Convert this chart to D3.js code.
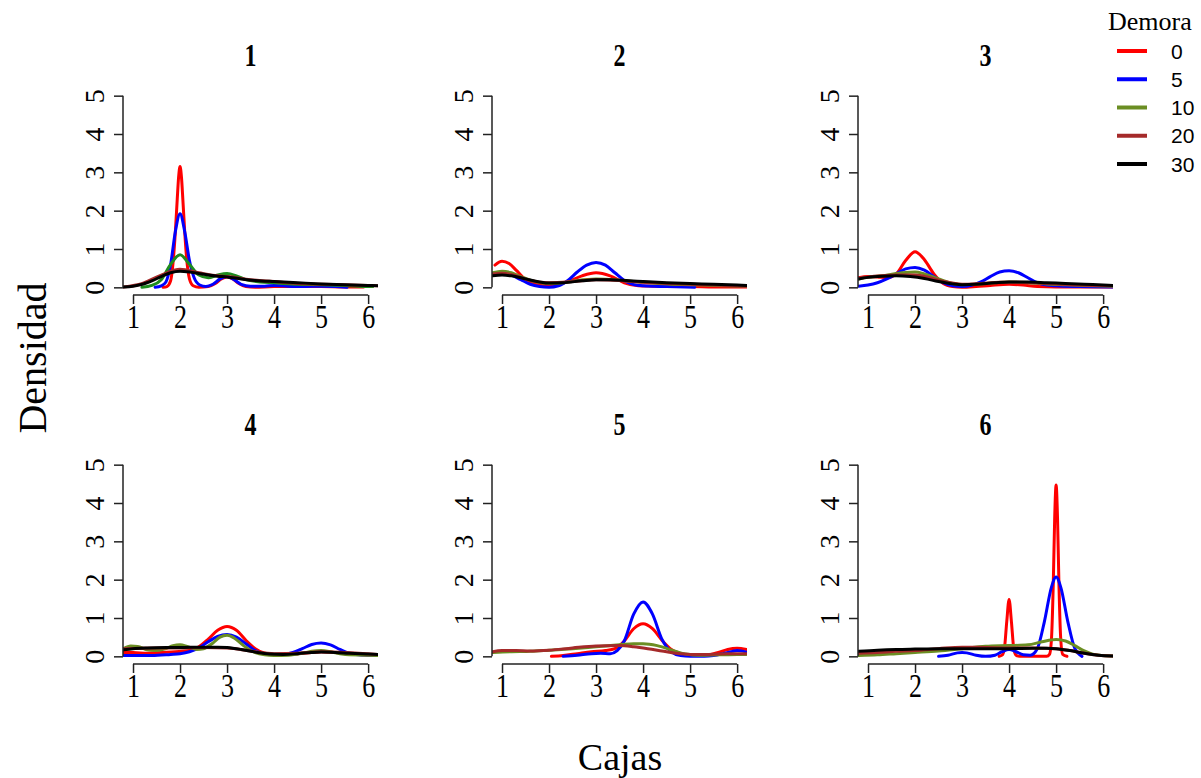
<!DOCTYPE html>
<html>
<head>
<meta charset="utf-8">
<script src="https://cdn.jsdelivr.net/npm/d3@7"></script>
<style>
  html, body { margin: 0; padding: 0; background: #fff; }
  svg { display: block; }
</style>
</head>
<body>
<svg id="chart" width="1201" height="778"></svg>
<script>
// Panel titles (number of boxes) and the delay groups
const panels = ["1", "2", "3", "4", "5", "6"];
const delays = ["0", "5", "10", "20", "30"];
const delayColors = ["#FF0000", "#0000FF", "#6B8E23", "#A52A2A", "#000000"];
const xTicks = [1, 2, 3, 4, 5, 6];
const yTicks = [0, 1, 2, 3, 4, 5];

// Density estimates, one list of [cajas, densidad] points per delay (0, 5, 10, 20, 30)
const caja1 = [
  [[1.64,0],[1.72,0.02],[1.8,0.17],[1.86,0.76],[1.9,1.44],[1.94,2.29],[1.97,2.88],[2.0,3.15],[2.03,2.88],[2.06,2.29],[2.1,1.44],[2.14,0.76],[2.2,0.22],[2.28,0.04],[2.4,0],[2.6,0.02],[2.75,0.1],[2.88,0.22],[3.0,0.27],[3.12,0.22],[3.25,0.1],[3.4,0.02],[3.6,0],[4.0,0.02],[4.5,0.02],[5.0,0.02],[5.5,0.01],[5.9,0.01]],
  [[1.47,0],[1.6,0.04],[1.7,0.14],[1.8,0.6],[1.9,1.45],[2.0,1.92],[2.1,1.45],[2.2,0.7],[2.3,0.25],[2.42,0.06],[2.55,0.02],[2.7,0.08],[2.85,0.22],[3.0,0.28],[3.15,0.2],[3.3,0.08],[3.5,0.03],[3.8,0.03],[4.0,0.05],[4.3,0.03],[4.6,0.02],[5.0,0.03],[5.3,0.02],[5.55,0]],
  [[1.19,0],[1.4,0.05],[1.6,0.2],[1.8,0.6],[2.0,0.85],[2.2,0.6],[2.4,0.32],[2.6,0.25],[2.8,0.32],[3.0,0.36],[3.2,0.3],[3.4,0.2],[3.7,0.14],[4.0,0.12],[4.5,0.08],[5.0,0.07],[5.5,0.05],[6.0,0.02],[6.1,0.02]],
  [[0.8,0.01],[1.2,0.1],[1.6,0.32],[2.0,0.47],[2.4,0.38],[2.8,0.3],[3.0,0.28],[3.5,0.2],[4.0,0.15],[4.5,0.1],[5.0,0.08],[5.5,0.07],[6.21,0.04]],
  [[0.79,0.01],[1.0,0.03],[1.2,0.08],[1.4,0.17],[1.6,0.28],[1.8,0.38],[2.0,0.42],[2.2,0.4],[2.4,0.36],[2.6,0.32],[2.8,0.29],[3.0,0.27],[3.3,0.22],[3.6,0.18],[4.0,0.15],[4.5,0.12],[5.0,0.09],[5.5,0.07],[6.0,0.05],[6.21,0.04]]
];
const caja2 = [
  [[0.85,0.58],[1.0,0.68],[1.15,0.62],[1.3,0.45],[1.5,0.2],[1.7,0.08],[1.9,0.05],[2.1,0.06],[2.4,0.15],[2.7,0.3],[3.0,0.38],[3.3,0.3],[3.6,0.12],[3.9,0.04],[4.2,0.03],[4.6,0.02],[5.0,0.02],[5.5,0.01],[6.2,0.01]],
  [[0.85,0.35],[1.0,0.38],[1.2,0.32],[1.4,0.2],[1.6,0.08],[1.8,0.02],[2.0,0],[2.2,0.04],[2.4,0.18],[2.6,0.4],[2.8,0.58],[3.0,0.65],[3.2,0.58],[3.4,0.38],[3.6,0.18],[3.8,0.07],[4.0,0.04],[4.5,0.02],[5.1,0]],
  [[0.8,0.38],[1.0,0.42],[1.2,0.38],[1.4,0.28],[1.7,0.15],[2.0,0.1],[2.3,0.12],[2.6,0.18],[3.0,0.22],[3.4,0.2],[3.8,0.15],[4.2,0.11],[4.6,0.08],[5.0,0.07],[5.5,0.05],[6.2,0.03]],
  [[0.8,0.35],[1.0,0.37],[1.3,0.3],[1.6,0.18],[2.0,0.12],[2.5,0.15],[3.0,0.2],[3.5,0.18],[4.0,0.13],[4.5,0.1],[5.0,0.08],[5.5,0.06],[6.2,0.03]],
  [[0.8,0.3],[1.0,0.32],[1.2,0.3],[1.5,0.22],[1.8,0.14],[2.0,0.11],[2.3,0.12],[2.7,0.17],[3.0,0.2],[3.3,0.2],[3.7,0.17],[4.0,0.15],[4.5,0.12],[5.0,0.1],[5.5,0.08],[6.0,0.06],[6.2,0.05]]
];
const caja3 = [
  [[0.8,0.25],[1.0,0.28],[1.2,0.27],[1.4,0.25],[1.6,0.35],[1.8,0.7],[2.0,0.93],[2.2,0.72],[2.4,0.35],[2.6,0.1],[2.8,0.02],[3.0,0],[3.3,0.02],[3.6,0.05],[4.0,0.08],[4.3,0.06],[4.6,0.02],[5.0,0.01],[5.5,0.01],[6.2,0.01]],
  [[0.8,0.03],[1.0,0.06],[1.2,0.12],[1.4,0.22],[1.6,0.35],[1.8,0.48],[2.0,0.52],[2.2,0.45],[2.4,0.28],[2.6,0.12],[2.8,0.04],[3.0,0.02],[3.2,0.05],[3.4,0.14],[3.6,0.28],[3.8,0.4],[4.0,0.43],[4.2,0.38],[4.4,0.25],[4.6,0.12],[4.8,0.06],[5.0,0.04],[5.5,0.02],[6.2,0.01]],
  [[0.8,0.22],[1.0,0.26],[1.3,0.3],[1.6,0.36],[1.8,0.39],[2.0,0.4],[2.2,0.35],[2.5,0.22],[2.8,0.1],[3.0,0.07],[3.3,0.08],[3.7,0.12],[4.0,0.14],[4.4,0.12],[4.8,0.09],[5.2,0.07],[5.6,0.05],[6.2,0.03]],
  [[0.8,0.24],[1.0,0.27],[1.3,0.3],[1.6,0.32],[2.0,0.32],[2.3,0.26],[2.6,0.16],[3.0,0.08],[3.4,0.1],[3.8,0.13],[4.2,0.13],[4.6,0.11],[5.0,0.09],[5.5,0.06],[6.2,0.04]],
  [[0.8,0.22],[1.0,0.26],[1.3,0.29],[1.6,0.3],[1.9,0.28],[2.2,0.23],[2.5,0.15],[2.8,0.09],[3.0,0.07],[3.3,0.08],[3.7,0.12],[4.0,0.14],[4.4,0.14],[4.8,0.12],[5.2,0.1],[5.6,0.08],[6.0,0.06],[6.21,0.05]]
];
const caja4 = [
  [[0.8,0.1],[1.0,0.1],[1.3,0.08],[1.6,0.1],[1.9,0.12],[2.2,0.15],[2.4,0.25],[2.6,0.45],[2.8,0.68],[3.0,0.78],[3.2,0.68],[3.4,0.42],[3.6,0.2],[3.8,0.08],[4.0,0.05],[4.4,0.06],[4.8,0.1],[5.0,0.12],[5.3,0.1],[5.6,0.07],[6.0,0.03],[6.1,0.02]],
  [[0.8,0.02],[1.0,0.02],[1.4,0.02],[1.8,0.05],[2.0,0.07],[2.2,0.12],[2.4,0.22],[2.6,0.38],[2.8,0.52],[3.0,0.57],[3.2,0.5],[3.4,0.33],[3.6,0.15],[3.8,0.06],[4.0,0.04],[4.2,0.05],[4.4,0.1],[4.6,0.2],[4.8,0.31],[5.0,0.35],[5.2,0.3],[5.4,0.18],[5.6,0.08],[5.8,0.04],[6.0,0.03],[6.2,0.02]],
  [[0.8,0.2],[0.95,0.27],[1.1,0.26],[1.3,0.17],[1.5,0.15],[1.7,0.2],[1.85,0.28],[2.0,0.3],[2.15,0.26],[2.35,0.18],[2.5,0.2],[2.7,0.35],[2.85,0.5],[3.0,0.55],[3.15,0.48],[3.35,0.28],[3.6,0.1],[3.8,0.04],[4.0,0.02],[4.3,0.03],[4.6,0.08],[4.8,0.13],[5.0,0.15],[5.2,0.12],[5.4,0.07],[5.6,0.04],[6.0,0.03],[6.2,0.02]],
  [[0.8,0.2],[1.5,0.22],[2.0,0.22],[2.5,0.23],[3.0,0.22],[3.5,0.14],[4.0,0.07],[4.5,0.08],[5.0,0.12],[5.5,0.1],[6.2,0.05]],
  [[0.8,0.17],[1.0,0.2],[1.3,0.22],[1.7,0.23],[2.0,0.23],[2.4,0.24],[2.8,0.24],[3.0,0.23],[3.3,0.18],[3.6,0.11],[3.9,0.06],[4.2,0.05],[4.5,0.07],[4.8,0.1],[5.0,0.11],[5.3,0.1],[5.6,0.08],[6.0,0.06],[6.21,0.05]]
];
const caja5 = [
  [[2.05,0],[2.3,0.02],[2.6,0.07],[2.9,0.12],[3.2,0.15],[3.4,0.2],[3.6,0.4],[3.8,0.72],[4.0,0.85],[4.2,0.72],[4.4,0.42],[4.6,0.18],[4.8,0.07],[5.0,0.03],[5.2,0.02],[5.4,0.04],[5.6,0.1],[5.8,0.18],[6.0,0.21],[6.2,0.18]],
  [[2.3,0],[2.6,0.03],[2.9,0.07],[3.1,0.08],[3.3,0.07],[3.45,0.15],[3.6,0.4],[3.8,1.1],[4.0,1.42],[4.2,1.1],[4.4,0.45],[4.6,0.12],[4.8,0.02],[5.0,0],[5.3,0],[5.5,0.02],[5.7,0.07],[5.9,0.13],[6.0,0.15],[6.2,0.11]],
  [[0.8,0.1],[1.2,0.12],[1.6,0.13],[2.0,0.16],[2.5,0.2],[3.0,0.25],[3.5,0.3],[3.8,0.33],[4.0,0.33],[4.3,0.28],[4.6,0.17],[4.9,0.06],[5.2,0.03],[5.6,0.04],[6.0,0.05],[6.2,0.05]],
  [[0.8,0.12],[1.0,0.15],[1.3,0.15],[1.6,0.14],[2.0,0.16],[2.5,0.22],[3.0,0.27],[3.5,0.28],[3.8,0.25],[4.1,0.2],[4.4,0.14],[4.7,0.08],[5.0,0.05],[5.4,0.05],[5.8,0.07],[6.2,0.07]],
  null
];
const caja6 = [
  [[3.79,0],[3.85,0.03],[3.9,0.2],[3.95,0.9],[4.0,1.48],[4.05,0.9],[4.1,0.2],[4.15,0.03],[4.22,0],[4.8,0],[4.86,0.05],[4.9,0.42],[4.94,1.9],[4.97,3.62],[5.0,4.47],[5.03,3.62],[5.06,1.9],[5.1,0.42],[5.14,0.05],[5.23,0]],
  [[2.5,0],[2.7,0.03],[2.9,0.09],[3.0,0.1],[3.1,0.09],[3.3,0.03],[3.5,0],[3.7,0.03],[3.85,0.12],[4.0,0.18],[4.15,0.12],[4.3,0.04],[4.45,0.03],[4.6,0.2],[4.75,0.9],[4.9,1.8],[5.0,2.07],[5.1,1.8],[5.25,0.9],[5.4,0.2],[5.55,0]],
  [[0.8,0.02],[1.2,0.04],[1.6,0.07],[2.0,0.1],[2.5,0.14],[3.0,0.2],[3.5,0.26],[4.0,0.28],[4.4,0.3],[4.7,0.38],[5.0,0.44],[5.2,0.4],[5.4,0.28],[5.6,0.14],[5.8,0.05],[6.0,0.02],[6.2,0.01]],
  [[0.8,0.08],[1.2,0.1],[1.6,0.13],[2.0,0.15],[2.5,0.2],[3.0,0.24],[3.5,0.23],[4.0,0.22],[4.5,0.22],[5.0,0.2],[5.3,0.15],[5.6,0.08],[5.9,0.03],[6.2,0.01]],
  [[0.8,0.13],[1.2,0.16],[1.6,0.18],[2.0,0.19],[2.5,0.2],[3.0,0.2],[3.5,0.2],[4.0,0.2],[4.5,0.21],[4.8,0.21],[5.0,0.2],[5.3,0.15],[5.6,0.08],[5.9,0.03],[6.21,0.01]]
];
const panelData = [caja1, caja2, caja3, caja4, caja5, caja6];

// The delay-10 curve of the first panel is drawn in a plainer green
const panelOverrides = { 0: { 2: "#1E8C1E" } };

const svg = d3.select("#chart");
const serif = "'Liberation Serif', 'Times New Roman', serif";
const sans = "'Liberation Sans', Arial, sans-serif";

// Panel grid geometry
const colLeft = [123, 492, 858];
const rowTop = [88, 457];
const plotW = 255, plotH = 207;

const x = d3.scaleLinear().domain([0.787, 6.21]).range([0, plotW]);
const y = d3.scaleLinear().domain([-0.2, 5.2]).range([plotH, 0]);

const line = d3.line()
  .x(d => x(d[0]))
  .y(d => y(d[1]))
  .curve(d3.curveMonotoneX);

panels.forEach((title, i) => {
  const col = i % 3, row = Math.floor(i / 3);
  const g = svg.append("g").attr("transform", `translate(${colLeft[col]},${rowTop[row]})`);

  // curves
  const clipId = "clip" + i;
  g.append("clipPath").attr("id", clipId)
    .append("rect").attr("x", 0).attr("y", 0).attr("width", plotW).attr("height", plotH);
  const curves = g.append("g").attr("clip-path", `url(#${clipId})`);
  panelData[i].forEach((pts, k) => {
    if (!pts) return;
    const color = (panelOverrides[i] && panelOverrides[i][k]) || delayColors[k];
    curves.append("path")
      .attr("d", line(pts))
      .attr("fill", "none")
      .attr("stroke", color)
      .attr("stroke-width", 3)
      .attr("stroke-linejoin", "round")
      .attr("stroke-linecap", "round");
  });

  // x axis
  const xa = g.append("g").attr("transform", `translate(0,${plotH})`)
    .call(d3.axisBottom(x).tickValues(xTicks).tickSize(9).tickSizeOuter(0).tickFormat(d3.format("d")));
  // y axis
  const ya = g.append("g")
    .call(d3.axisLeft(y).tickValues(yTicks).tickSize(9).tickSizeOuter(0).tickFormat(d3.format("d")));

  [xa, ya].forEach(a => {
    a.select(".domain").attr("stroke", "#222").attr("stroke-width", 1.5);
    a.selectAll(".tick line").attr("stroke", "#222").attr("stroke-width", 1.5);
    a.selectAll(".tick text").attr("font-family", serif).attr("fill", "#000");
  });
  // axis spines span only the tick range
  xa.select(".domain").attr("d", `M${x(1)},0H${x(6)}`);
  ya.select(".domain").attr("d", `M0,${y(0)}V${y(5)}`);

  // x tick labels are drawn tall and narrow
  xa.selectAll(".tick text")
    .attr("font-size", 26)
    .attr("dy", null).attr("y", 0)
    .attr("dominant-baseline", "central")
    .attr("transform", "translate(0,22) scale(1,1.3)");
  ya.selectAll(".tick text")
    .attr("font-size", 28)
    .attr("x", null).attr("dy", null)
    .attr("text-anchor", "middle")
    .attr("transform", "translate(-29,0) rotate(-90)")
    .attr("dominant-baseline", "central");

  // panel title
  g.append("text")
    .attr("transform", `translate(${plotW / 2},-33) scale(1,1.3)`)
    .attr("text-anchor", "middle").attr("dominant-baseline", "central")
    .attr("font-family", serif).attr("font-weight", "bold").attr("font-size", 24)
    .text(title);
});

// Axis titles
svg.append("text")
  .attr("transform", "translate(32,358) rotate(-90)")
  .attr("text-anchor", "middle").attr("dominant-baseline", "central")
  .attr("font-family", serif).attr("font-size", 40)
  .text("Densidad");
svg.append("text")
  .attr("x", 620).attr("y", 757)
  .attr("text-anchor", "middle").attr("dominant-baseline", "central")
  .attr("font-family", serif).attr("font-size", 38)
  .text("Cajas");

// Legend
const legend = svg.append("g").attr("transform", "translate(1108,0)");
legend.append("text")
  .attr("x", 0).attr("y", 30)
  .attr("font-family", serif).attr("font-size", 26)
  .text("Demora");
const legendY = d3.scalePoint().domain(delays).range([51, 164]);
delays.forEach((d, k) => {
  legend.append("line")
    .attr("x1", 9).attr("x2", 39)
    .attr("y1", legendY(d)).attr("y2", legendY(d))
    .attr("stroke", delayColors[k]).attr("stroke-width", 4);
  legend.append("text")
    .attr("x", 63).attr("y", legendY(d))
    .attr("dominant-baseline", "central")
    .attr("font-family", sans).attr("font-size", 21)
    .text(d);
});
</script>
</body>
</html>
